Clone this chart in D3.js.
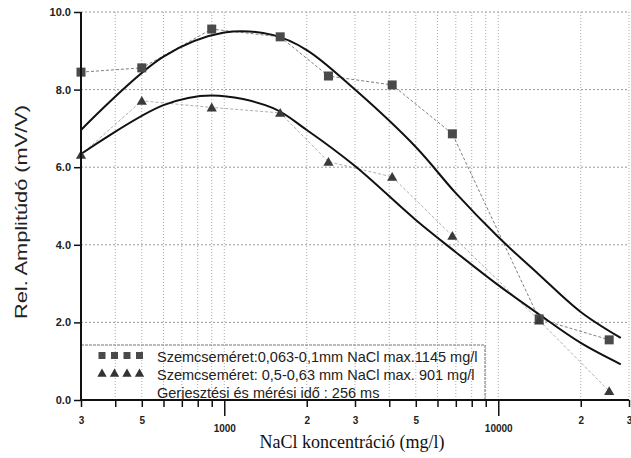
<!DOCTYPE html>
<html>
<head>
<meta charset="utf-8">
<script src="https://cdn.jsdelivr.net/npm/d3@7"></script>
<style>
	body { margin: 0; background: #fff; }
	svg { display: block; }
	.tick text { font-family: "Liberation Sans", Arial, sans-serif; font-weight: bold; fill: #222; }
</style>
</head>
<body>
<script>
/* Measured points, NaCl concentration (mg/l) */
var concX = [300, 500, 900, 1600, 2400, 4100, 6800, 14100, 25400];
var squareY = [8.45, 8.56, 9.56, 9.36, 8.35, 8.12, 6.86, 2.09, 1.55];
var triangleY = [6.32, 7.71, 7.54, 7.40, 6.14, 5.75, 4.23, 2.05, 0.23];

/* Fitted curves */
var fitX1 = [300, 600, 1000, 1500, 2000, 3000, 5000, 7000, 10000, 14000, 20000, 28000];
var fitY1 = [6.96, 8.85, 9.47, 9.41, 9.02, 8.00, 6.52, 5.33, 4.20, 3.25, 2.27, 1.60];
var fitX2 = [300, 600, 900, 1500, 2000, 3000, 5000, 7000, 10000, 14000, 20000, 28000];
var fitY2 = [6.34, 7.60, 7.85, 7.53, 6.96, 6.03, 4.64, 3.81, 2.96, 2.22, 1.47, 0.92];

var xTicks = [300, 400, 500, 600, 700, 800, 900, 1000, 2000, 3000, 4000, 5000, 6000, 7000, 8000, 9000, 10000, 20000, 30000];
var xLabels = {300: "3", 500: "5", 1000: "1000", 2000: "2", 3000: "3", 5000: "5", 10000: "10000", 20000: "2", 30000: "3"};
var yTicks = [0, 2, 4, 6, 8, 10];

var legendLines = [
	"Szemcseméret:0,063-0,1mm NaCl max.1145 mg/l",
	"Szemcseméret: 0,5-0,63 mm NaCl max. 901 mg/l",
	"Gerjesztési és mérési idő : 256 ms"
];

var W = 631, H = 458;
var plot = {left: 81, right: 629, top: 12, bottom: 400}; // window.top is reserved

var x = d3.scaleLog().domain([300, 30000]).range([plot.left, plot.right]);
var y = d3.scaleLinear().domain([0, 10]).range([plot.bottom, plot.top]);

var svg = d3.select("body").append("svg")
	.attr("width", W)
	.attr("height", H);

// grid (dotted)
svg.append("g").selectAll("line")
	.data(xTicks.slice(1))
	.enter().append("line")
		.attr("x1", function(d) { return x(d); })
		.attr("x2", function(d) { return x(d); })
		.attr("y1", plot.top)
		.attr("y2", plot.bottom)
		.style("stroke", "#aaa")
		.style("stroke-width", 1)
		.style("stroke-dasharray", "1,2");

svg.append("g").selectAll("line")
	.data(yTicks.slice(1))
	.enter().append("line")
		.attr("x1", plot.left)
		.attr("x2", plot.right)
		.attr("y1", function(d) { return y(d); })
		.attr("y2", function(d) { return y(d); })
		.style("stroke", "#999")
		.style("stroke-width", 1)
		.style("stroke-dasharray", "2,2");

// legend frame
svg.append("path")
	.attr("d", "M" + plot.left + ",345H485V" + plot.bottom)
	.style("fill", "none")
	.style("stroke", "#777")
	.style("stroke-width", 1)
	.style("stroke-dasharray", "3,1");

// connector lines between measured points
var pts = d3.line()
	.x(function(d) { return x(d[0]); })
	.y(function(d) { return y(d[1]); });

svg.append("path")
	.datum(d3.zip(concX, squareY))
	.attr("d", pts)
	.style("fill", "none")
	.style("stroke", "#808080")
	.style("stroke-width", 1)
	.style("stroke-dasharray", "3,2");

svg.append("path")
	.datum(d3.zip(concX, triangleY))
	.attr("d", pts)
	.style("fill", "none")
	.style("stroke", "#b0b0b0")
	.style("stroke-width", 1)
	.style("stroke-dasharray", "3,2");

// fitted curves
var fit = d3.line()
	.x(function(d) { return x(d[0]); })
	.y(function(d) { return y(d[1]); })
	.curve(d3.curveCatmullRom.alpha(0.5));

[[fitX1, fitY1], [fitX2, fitY2]].forEach(function(c) {
	svg.append("path")
		.datum(d3.zip(c[0], c[1]))
		.attr("d", fit)
		.style("fill", "none")
		.style("stroke", "#111")
		.style("stroke-width", 2);
});

// markers
var tri = d3.symbol().type(d3.symbolTriangle).size(45);

svg.selectAll(".sq")
	.data(d3.zip(concX, squareY))
	.enter().append("rect")
		.attr("class", "sq")
		.attr("x", function(d) { return x(d[0]) - 4.5; })
		.attr("y", function(d) { return y(d[1]) - 4.5; })
		.attr("width", 9)
		.attr("height", 9)
		.style("fill", "#4a4a4a");

svg.selectAll(".tri")
	.data(d3.zip(concX, triangleY))
	.enter().append("path")
		.attr("class", "tri")
		.attr("d", tri)
		.attr("transform", function(d) { return "translate(" + x(d[0]) + "," + (y(d[1]) + 1) + ")"; })
		.style("fill", "#3a3a3a");

// axes
var xAxis = d3.axisBottom(x)
	.tickValues(xTicks)
	.tickSize(7)
	.tickPadding(10)
	.tickFormat(function(d) { return xLabels[d] || ""; });

var gx = svg.append("g")
	.attr("transform", "translate(0," + plot.bottom + ")")
	.call(xAxis);
gx.select(".domain").remove();
gx.selectAll(".tick line").style("stroke", "#111").style("stroke-width", 1.5);
gx.selectAll(".tick text").style("font-size", "10px");
gx.selectAll(".tick").filter(function(d) { return d === 1000 || d === 10000; })
	.each(function() {
		d3.select(this).select("line").attr("y2", 16);
		d3.select(this).select("text").attr("y", 25);
	});

var yAxis = d3.axisLeft(y)
	.tickValues(yTicks)
	.tickSize(7)
	.tickPadding(3)
	.tickFormat(d3.format(".1f"));

var gy = svg.append("g")
	.attr("transform", "translate(" + plot.left + ",0)")
	.call(yAxis);
gy.select(".domain").remove();
gy.selectAll(".tick line").style("stroke", "#111").style("stroke-width", 1.5);
gy.selectAll(".tick text").style("font-size", "11px");

// axis lines
svg.append("line")
	.attr("x1", plot.left).attr("x2", plot.left)
	.attr("y1", plot.top).attr("y2", plot.bottom)
	.style("stroke", "#111").style("stroke-width", 2);
svg.append("line")
	.attr("x1", plot.left).attr("x2", plot.right)
	.attr("y1", plot.bottom).attr("y2", plot.bottom)
	.style("stroke", "#111").style("stroke-width", 2);

// axis titles
svg.append("text")
	.attr("x", 352)
	.attr("y", 448)
	.style("text-anchor", "middle")
	.style("font-family", "'Liberation Serif', 'Times New Roman', serif")
	.style("font-size", "18px")
	.style("fill", "#111")
	.text("NaCl koncentráció (mg/l)");

svg.append("text")
	.attr("transform", "translate(27,212) rotate(-90)")
	.attr("textLength", 214)
	.attr("lengthAdjust", "spacingAndGlyphs")
	.style("text-anchor", "middle")
	.style("font-family", "'Liberation Sans', Arial, sans-serif")
	.style("font-size", "17px")
	.style("fill", "#222")
	.text("Rel. Amplitúdó (mV/V)");

// legend
var legend = svg.selectAll(".legend")
	.data(legendLines)
	.enter().append("g")
		.attr("class", "legend")
		.attr("transform", function(d, i) { return "translate(0," + (362 + i * 18) + ")"; });

legend.append("text")
	.attr("x", 157)
	.style("font-family", "'Liberation Sans', Arial, sans-serif")
	.style("font-size", "14.5px")
	.style("fill", "#222")
	.text(function(d) { return d; });

var legendMarks = [102, 114.5, 127, 139.5];
legend.filter(function(d, i) { return i === 0; }).selectAll("rect")
	.data(legendMarks)
	.enter().append("rect")
		.attr("x", function(d) { return d - 3.5; })
		.attr("y", -10)
		.attr("width", 7)
		.attr("height", 7)
		.style("fill", "#4a4a4a");

legend.filter(function(d, i) { return i === 1; }).selectAll("path")
	.data(legendMarks)
	.enter().append("path")
		.attr("d", d3.symbol().type(d3.symbolTriangle).size(38))
		.attr("transform", function(d) { return "translate(" + d + ",-6)"; })
		.style("fill", "#333");
</script>
</body>
</html>
